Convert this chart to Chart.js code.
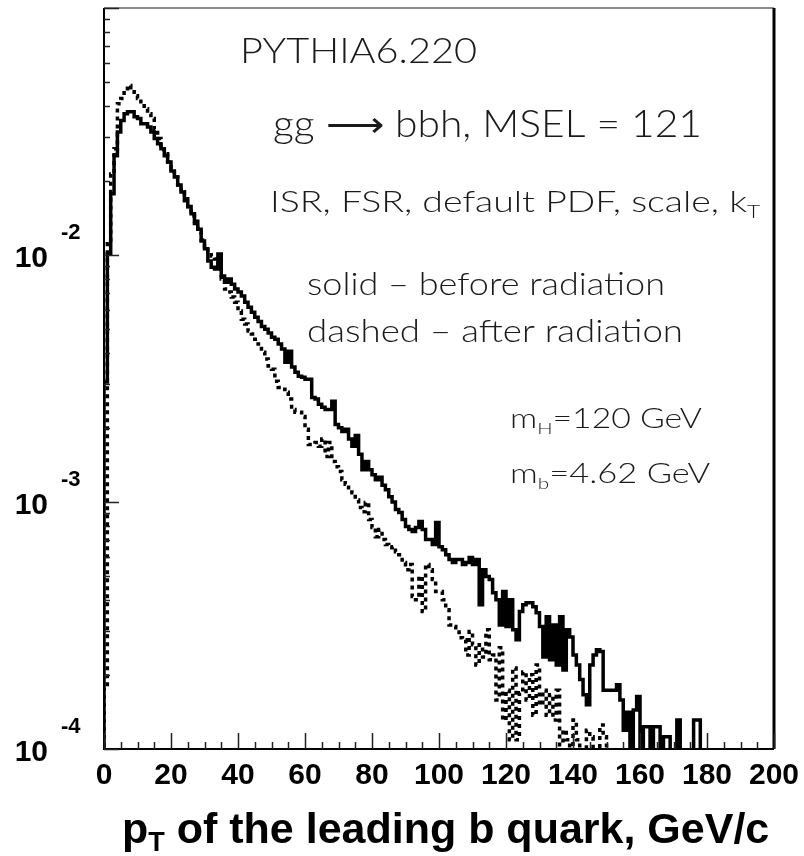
<!DOCTYPE html>
<html lang="en">
<head>
<meta charset="UTF-8">
<title>pT of the leading b quark</title>
<style>
  body { margin: 0; background: #fff; }
  canvas { display: block; }
</style>
<script src="https://cdn.jsdelivr.net/npm/chart.js@4"></script>
</head>
<body>
<canvas id="ptChart" width="804" height="856"></canvas>
<script>
// 1 GeV/c bins starting at pT = 0, normalised entries (0 = empty bin)
const binWidth = 1;

// solid - before radiation
const beforeRad = [
  3.06e-3, 1.01e-2, 1.77e-2, 2.52e-2, 3.15e-2, 3.50e-2, 3.73e-2, 3.80e-2, 3.80e-2, 3.63e-2,
  3.57e-2, 3.40e-2, 3.40e-2, 3.30e-2, 3.15e-2, 2.96e-2, 2.82e-2, 2.69e-2, 2.52e-2, 2.38e-2,
  2.19e-2, 2.07e-2, 1.92e-2, 1.80e-2, 1.69e-2, 1.57e-2, 1.47e-2, 1.37e-2, 1.27e-2, 1.14e-2,
  1.06e-2, 9.46e-3, 8.93e-3, 8.77e-3, 1.01e-2, 8.22e-3, 7.76e-3, 8.00e-3, 7.62e-3, 7.28e-3,
  7.08e-3, 6.82e-3, 6.44e-3, 6.14e-3, 5.86e-3, 5.60e-3, 5.38e-3, 5.14e-3, 5.01e-3, 4.83e-3,
  4.65e-3, 4.56e-3, 4.36e-3, 4.16e-3, 3.68e-3, 4.08e-3, 3.52e-3, 3.35e-3, 3.23e-3, 3.20e-3,
  3.14e-3, 3.14e-3, 2.65e-3, 2.61e-3, 2.49e-3, 2.42e-3, 2.37e-3, 2.37e-3, 2.56e-3, 2.06e-3,
  2.00e-3, 1.93e-3, 1.97e-3, 1.80e-3, 1.68e-3, 1.86e-3, 1.56e-3, 1.35e-3, 1.46e-3, 1.35e-3,
  1.29e-3, 1.23e-3, 1.26e-3, 1.17e-3, 1.12e-3, 1.05e-3, 1.00e-3, 9.33e-4, 9.06e-4, 8.49e-4,
  7.96e-4, 7.73e-4, 7.59e-4, 7.89e-4, 8.34e-4, 7.73e-4, 7.05e-4, 7.05e-4, 6.73e-4, 8.26e-4,
  6.59e-4, 6.41e-4, 6.12e-4, 5.85e-4, 5.69e-4, 5.85e-4, 5.85e-4, 5.58e-4, 5.69e-4, 5.96e-4,
  5.58e-4, 5.85e-4, 3.84e-4, 5.32e-4, 4.99e-4, 4.85e-4, 4.29e-4, 4.02e-4, 3.18e-4, 4.34e-4,
  3.13e-4, 4.02e-4, 3.04e-4, 2.77e-4, 3.60e-4, 3.84e-4, 3.91e-4, 3.91e-4, 3.77e-4, 3.56e-4,
  3.13e-4, 2.36e-4, 3.43e-4, 2.30e-4, 3.18e-4, 2.19e-4, 3.43e-4, 2.09e-4, 3.04e-4, 2.84e-4,
  2.40e-4, 2.19e-4, 1.91e-4, 1.66e-4, 1.51e-4, 2.19e-4, 2.40e-4, 2.52e-4, 2.48e-4, 1.73e-4,
  1.73e-4, 1.73e-4, 1.73e-4, 1.82e-4, 1.58e-4, 1.19e-4, 1.41e-4, 0, 1.44e-4, 1.63e-4,
  0, 1.23e-4, 1.23e-4, 0, 1.23e-4, 1.23e-4, 0, 1.12e-4, 1.12e-4, 0,
  0, 1.31e-4, 0, 0, 0, 0, 1.31e-4, 1.31e-4
];

// dashed - after radiation
const afterRad = [
  1.77e-4, 1.11e-2, 2.13e-2, 2.69e-2, 4.10e-2, 4.30e-2, 4.62e-2, 4.85e-2, 4.58e-2, 4.41e-2,
  4.30e-2, 4.10e-2, 3.91e-2, 3.73e-2, 3.57e-2, 3.24e-2, 2.96e-2, 2.77e-2, 2.57e-2, 2.38e-2,
  2.23e-2, 2.07e-2, 1.92e-2, 1.80e-2, 1.66e-2, 1.54e-2, 1.44e-2, 1.34e-2, 1.24e-2, 1.15e-2,
  1.08e-2, 1.03e-2, 9.91e-3, 9.64e-3, 8.77e-3, 8.00e-3, 7.28e-3, 7.08e-3, 6.76e-3, 6.44e-3,
  5.93e-3, 5.50e-3, 5.25e-3, 4.92e-3, 4.79e-3, 4.56e-3, 4.36e-3, 4.04e-3, 3.79e-3, 3.55e-3,
  3.45e-3, 3.08e-3, 2.91e-3, 2.86e-3, 2.78e-3, 2.61e-3, 2.37e-3, 2.31e-3, 2.31e-3, 2.22e-3,
  1.97e-3, 1.71e-3, 1.71e-3, 1.74e-3, 1.68e-3, 1.80e-3, 1.53e-3, 1.74e-3, 1.46e-3, 1.39e-3,
  1.33e-3, 1.23e-3, 1.18e-3, 1.12e-3, 1.09e-3, 1.02e-3, 9.51e-4, 9.14e-4, 9.95e-4, 8.49e-4,
  7.89e-4, 7.24e-4, 7.73e-4, 7.05e-4, 6.73e-4, 6.53e-4, 6.59e-4, 6.29e-4, 6.12e-4, 5.69e-4,
  5.32e-4, 5.58e-4, 4.14e-4, 4.02e-4, 4.99e-4, 3.60e-4, 5.58e-4, 5.32e-4, 4.85e-4, 4.34e-4,
  4.34e-4, 4.02e-4, 3.66e-4, 3.18e-4, 3.13e-4, 3.04e-4, 2.82e-4, 2.77e-4, 2.40e-4, 2.99e-4,
  2.64e-4, 2.19e-4, 2.64e-4, 2.36e-4, 3.04e-4, 2.30e-4, 2.40e-4, 1.58e-4, 2.57e-4, 1.31e-4,
  1.73e-4, 1.09e-4, 2.13e-4, 1.09e-4, 1.69e-4, 2.05e-4, 1.58e-4, 2.00e-4, 1.37e-4, 2.19e-4,
  1.51e-4, 1.73e-4, 1.37e-4, 1.66e-4, 1.31e-4, 1.73e-4, 1.04e-4, 1.19e-4, 1.09e-4, 0,
  1.31e-4, 1.09e-4, 0, 0, 1.19e-4, 1.12e-4, 0, 0, 1.25e-4, 1.12e-4
];

const xRange = [0, 200];
const xMajorTicks = [0, 20, 40, 60, 80, 100, 120, 140, 160, 180, 200];
const xMinorStep = 5;
const yRange = [1e-4, 1e-1];
const yDecades = [1e-4, 1e-3, 1e-2, 1e-1];
const yLabelled = [
  { value: 1e-2, exp: '-2' },
  { value: 1e-3, exp: '-3' },
  { value: 1e-4, exp: '-4' }
];

// text placed inside the frame: pieces, left x, baseline y, font size, target width
const notes = [
  { parts: [{ t: 'PYTHIA6.220' }], x: 240, y: 63, size: 36, w: 237 },
  { parts: [{ t: 'gg \u27F6 bbh, MSEL = 121' }], x: 273, y: 137, size: 37, w: 429 },
  { parts: [{ t: 'ISR, FSR, default PDF, scale, k' }, { t: 'T', sub: true }], x: 270, y: 212, size: 29, w: 490 },
  { parts: [{ t: 'solid \u2013 before radiation' }], x: 307, y: 295, size: 31, w: 358 },
  { parts: [{ t: 'dashed \u2013 after radiation' }], x: 307, y: 342, size: 31, w: 376 },
  { parts: [{ t: 'm' }, { t: 'H', sub: true }, { t: '=120 GeV' }], x: 510, y: 428, size: 27, w: 192 },
  { parts: [{ t: 'm' }, { t: 'b', sub: true }, { t: '=4.62 GeV' }], x: 510, y: 483, size: 27, w: 200 }
];

const emptyLevel = 1e-6; // empty bins drop below the frame

function histPoints(vals) {
  const pts = [{ x: 0, y: emptyLevel }];
  vals.forEach((v, i) => pts.push({ x: i * binWidth, y: v > 0 ? v : emptyLevel }));
  const end = vals.length * binWidth;
  pts.push({ x: end, y: vals[vals.length - 1] || emptyLevel });
  pts.push({ x: end, y: emptyLevel });
  return pts;
}

const thinFont = '"Lato", "Open Sans", sans-serif';
const boldFont = '"Liberation Sans", Arial, sans-serif';

function drawNote(ctx, n) {
  const subSize = n.size * 0.6;
  let total = 0;
  n.parts.forEach(p => {
    ctx.font = '300 ' + (p.sub ? subSize : n.size) + 'px ' + thinFont;
    p.width = ctx.measureText(p.t).width;
    total += p.width;
  });
  ctx.save();
  ctx.translate(n.x, n.y);
  ctx.scale(n.w / total, 1);
  ctx.fillStyle = '#1a1a1a';
  ctx.textBaseline = 'alphabetic';
  ctx.textAlign = 'left';
  let cx = 0;
  n.parts.forEach(p => {
    ctx.font = '300 ' + (p.sub ? subSize : n.size) + 'px ' + thinFont;
    ctx.fillText(p.t, cx, p.sub ? n.size * 0.22 : 0);
    cx += p.width;
  });
  ctx.restore();
}

const framePlugin = {
  id: 'frame',
  beforeDraw(chart) {
    const ctx = chart.ctx;
    ctx.save();
    ctx.fillStyle = '#fff';
    ctx.fillRect(0, 0, chart.width, chart.height);
    ctx.restore();
  },
  afterDraw(chart) {
    const ctx = chart.ctx;
    const a = chart.chartArea;
    const xs = chart.scales.x;
    const ys = chart.scales.y;
    ctx.save();

    // frame
    ctx.strokeStyle = '#666';
    ctx.lineWidth = 1.5;
    ctx.beginPath();
    ctx.moveTo(a.left, a.top); ctx.lineTo(a.right, a.top);
    ctx.stroke();
    ctx.strokeStyle = '#000';
    ctx.lineWidth = 3;
    ctx.beginPath();
    ctx.moveTo(a.right, a.top); ctx.lineTo(a.right, a.bottom);
    ctx.stroke();
    ctx.lineWidth = 2;
    ctx.beginPath();
    ctx.moveTo(a.left, a.top); ctx.lineTo(a.left, a.bottom); ctx.lineTo(a.right, a.bottom);
    ctx.stroke();

    // x ticks (inward)
    ctx.strokeStyle = '#222';
    ctx.lineWidth = 1.5;
    ctx.beginPath();
    for (let v = xRange[0]; v <= xRange[1]; v += xMinorStep) {
      const px = Math.round(xs.getPixelForValue(v)) + 0.5;
      const len = xMajorTicks.includes(v) ? 16 : 7;
      ctx.moveTo(px, a.bottom); ctx.lineTo(px, a.bottom - len);
    }
    // y ticks (inward)
    yDecades.forEach((d, k) => {
      const mults = k < yDecades.length - 1 ? [1, 2, 3, 4, 5, 6, 7, 8, 9] : [1];
      mults.forEach(m => {
        const py = Math.round(ys.getPixelForValue(m * d)) + 0.5;
        const len = m === 1 ? 15 : 6;
        ctx.moveTo(a.left, py); ctx.lineTo(a.left + len, py);
      });
    });
    ctx.stroke();

    // x tick labels
    ctx.fillStyle = '#000';
    ctx.font = 'bold 30px ' + boldFont;
    ctx.textAlign = 'center';
    ctx.textBaseline = 'alphabetic';
    xMajorTicks.forEach(v => {
      ctx.fillText(String(v), xs.getPixelForValue(v), 784);
    });

    // y tick labels 10^n
    yLabelled.forEach(l => {
      const py = ys.getPixelForValue(l.value);
      ctx.font = 'bold 30px ' + boldFont;
      ctx.textAlign = 'right';
      ctx.fillText('10', 48, py + 12);
      ctx.font = 'bold 22px ' + boldFont;
      ctx.textAlign = 'left';
      ctx.fillText(l.exp, 61, py - 16);
    });

    // x axis title
    ctx.textAlign = 'left';
    let tx = 122;
    const ty = 843;
    ctx.font = 'bold 43px ' + boldFont;
    ctx.fillText('p', tx, ty);
    tx += ctx.measureText('p').width;
    ctx.font = 'bold 27px ' + boldFont;
    ctx.fillText('T', tx, ty + 8);
    tx += ctx.measureText('T').width;
    ctx.font = 'bold 43px ' + boldFont;
    ctx.fillText(' of the leading b quark, GeV/c', tx, ty);

    notes.forEach(n => drawNote(ctx, n));
    ctx.restore();
  }
};

const ctx = document.getElementById('ptChart').getContext('2d');
new Chart(ctx, {
  type: 'line',
  data: {
    datasets: [
      {
        label: 'solid - before radiation',
        data: histPoints(beforeRad),
        borderColor: '#000',
        borderWidth: 3.5,
        stepped: true,
        pointRadius: 0,
        fill: false,
        borderCapStyle: 'butt',
        borderJoinStyle: 'miter'
      },
      {
        label: 'dashed - after radiation',
        data: histPoints(afterRad),
        borderColor: '#000',
        borderWidth: 3.5,
        borderDash: [4, 4],
        stepped: true,
        pointRadius: 0,
        fill: false,
        borderCapStyle: 'butt',
        borderJoinStyle: 'miter'
      }
    ]
  },
  options: {
    responsive: false,
    animation: false,
    events: [],
    parsing: true,
    layout: { padding: { left: 104, right: 30, top: 8, bottom: 107 } },
    scales: {
      x: { type: 'linear', min: xRange[0], max: xRange[1], display: false },
      y: { type: 'logarithmic', min: yRange[0], max: yRange[1], display: false }
    },
    plugins: {
      legend: { display: false },
      tooltip: { enabled: false }
    }
  },
  plugins: [framePlugin]
});
</script>
</body>
</html>
